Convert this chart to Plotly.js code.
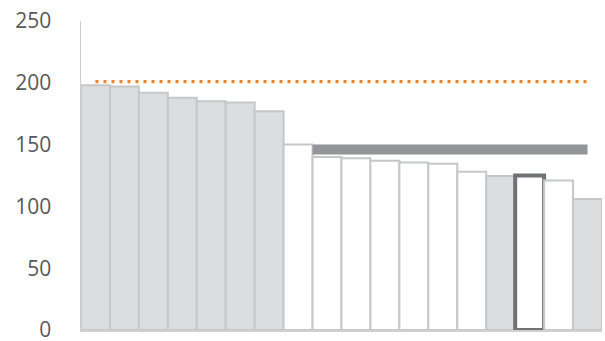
<!DOCTYPE html>
<html>
<head>
<meta charset="utf-8">
<script src="https://cdn.plot.ly/plotly-3.0.1.min.js"></script>
<style>html,body{margin:0;padding:0;background:#fff;}#chart{width:605px;height:341px;}</style>
</head>
<body>
<div id="chart"></div>
<script>
// ---- data ----
const categories = [1,2,3,4,5,6,7,8,9,10,11,12,13,14,15,16,17,18];
const values = [198,197,192,188,185,184,177,150,140,139,137,135.5,134.5,128,124.5,125,121,106];
// group of each bar: "grey", "white", "focus"
const groups = ["grey","grey","grey","grey","grey","grey","grey","white","white","white","white","white","white","white","grey","focus","white","grey"];
const targetValue = 201;       // orange dotted line
const benchmarkValue = 146;    // dark grey band
const benchmarkStart = 8.5;    // category boundary where the band starts
const benchmarkEnd = 18;
const yTicks = [0,50,100,150,200,250];

// ---- styles ----
const fillFor = {grey:"#DCDDDF", white:"#FFFFFF", focus:"#FFFFFF"};
const lineFor = {grey:"#C6C7C8", white:"#C6C7C8", focus:"#717275"};
const lineWFor = {grey:2, white:2, focus:4};

const bars = {
  type: "bar",
  x: categories,
  y: values,
  marker: {
    color: groups.map(g => fillFor[g]),
    line: {color: groups.map(g => lineFor[g]), width: groups.map(g => lineWFor[g])}
  },
  hoverinfo: "skip"
};
const target = {
  type: "scatter", mode: "lines",
  x: categories,
  y: categories.map(() => targetValue),
  line: {color: "#F58220", width: 3.2, dash: "3px,5px"},
  hoverinfo: "skip"
};
const bench = {
  type: "scatter", mode: "lines",
  x: [benchmarkStart, benchmarkEnd],
  y: [benchmarkValue, benchmarkValue],
  line: {color: "#939598", width: 10},
  hoverinfo: "skip"
};

const layout = {
  width: 605, height: 341,
  margin: {l: 81, r: 3, t: 21, b: 11, pad: 0},
  paper_bgcolor: "#fff", plot_bgcolor: "#fff",
  showlegend: false,
  bargap: 0,
  font: {family: "Open Sans, Liberation Sans, sans-serif", color: "#595959"},
  xaxis: {
    range: [0.5, 18.5], showticklabels: false, showgrid: false, zeroline: false,
    showline: true, linecolor: "#D0D0D0", linewidth: 1.5, ticks: ""
  },
  yaxis: {
    range: [0, 250], tickvals: yTicks, ticktext: yTicks.map(String),
    showgrid: false, zeroline: false, showline: true, linecolor: "#D0D0D0", linewidth: 1.5,
    ticks: "", ticklabelstandoff: 24, ticklabeloverflow: "allow", automargin: false,
    tickfont: {size: 21, color: "#595959", family: "Open Sans, Liberation Sans, sans-serif"}
  }
};

Plotly.newPlot("chart", [bars, bench, target], layout, {staticPlot: true, displayModeBar: false});
</script>
</body>
</html>
